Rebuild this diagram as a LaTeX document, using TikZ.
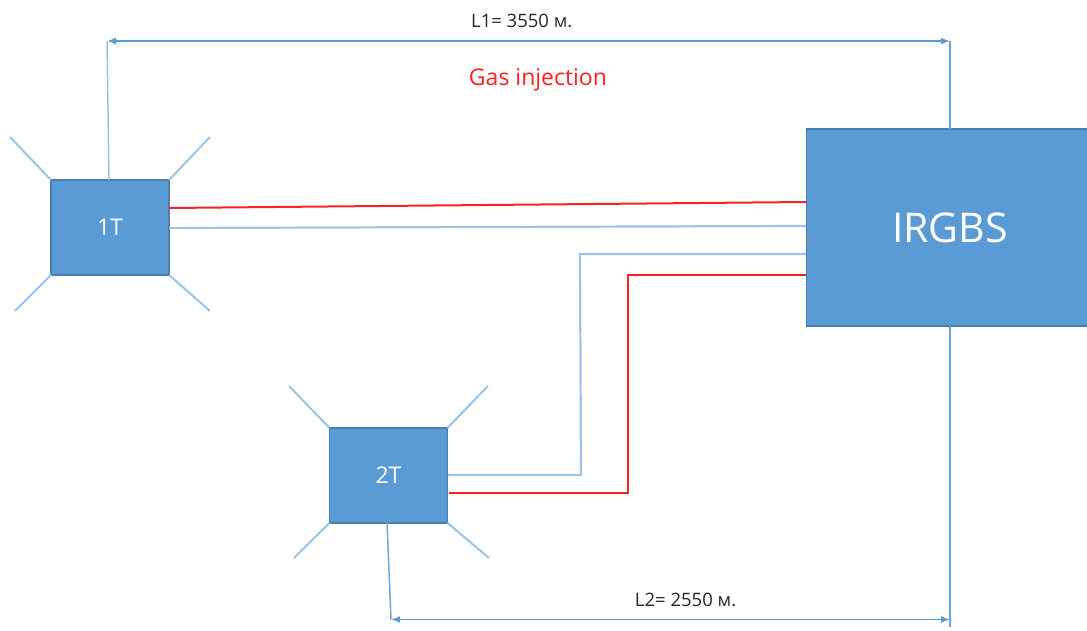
\documentclass[tikz,border=0pt]{standalone}
\usepackage{fontspec}
\setmainfont{Open Sans}
\usepackage{tikz}
\usetikzlibrary{positioning,calc,arrows.meta}
\definecolor{boxblue}{HTML}{5B9BD5}
\definecolor{boxedge}{HTML}{4A7EAE}
\definecolor{lineblue}{HTML}{9DC3E6}
\definecolor{dimblue}{HTML}{5B9BD5}
\definecolor{gasred}{HTML}{FF2020}
\tikzset{
  every picture/.style={line width=0.7pt},
  sbox/.style={draw=boxedge, fill=boxblue, line width=1.2pt, text=white, inner sep=0pt, outer sep=0pt},
  swell/.style={sbox, minimum width=118pt, minimum height=95pt, font=\fontsize{23}{28}\selectfont},
  sleg/.style={draw=lineblue, line width=2pt},
  sgas/.style={draw=gasred, line width=2pt},
  swater/.style={draw=lineblue, line width=2.2pt},
  sext/.style={draw=dimblue!75!lineblue, line width=1.5pt},
  sdim/.style={draw=dimblue, line width=1.4pt, {Latex[length=9pt,width=7pt]}-{Latex[length=9pt,width=7pt]}},
  sdimlabel/.style={font=\fontsize{18.5}{22}\selectfont, text=black!85, inner sep=0pt},
}
\begin{document}
\begin{tikzpicture}[x=1pt,y=-1pt]
  \useasboundingbox (0,0) rectangle (1087,631);
  \node[swell] (T1) at (110,227.5) {1T};
  \node[swell] (T2) at (388.5,475.4) {2T};
  \node[sbox, minimum width=287pt, minimum height=197pt, font=\fontsize{41}{50}\selectfont] (IRGBS) at (950,227.5) {IRGBS};
  % stubs round the wells
  \coordinate (a1) at (10,137);
  \coordinate (a2) at (210,137);
  \coordinate (a3) at (15,311);
  \coordinate (a4) at (210,311);
  \draw[sleg] (T1.north west) -- (a1);
  \draw[sleg] (T1.north east) -- (a2);
  \draw[sleg] (T1.south west) -- (a3);
  \draw[sleg] (T1.south east) -- (a4);
  \coordinate (b1) at (289,386);
  \coordinate (b2) at (488,386);
  \coordinate (b3) at (294,558);
  \coordinate (b4) at (489,558);
  \draw[sleg] (T2.north west) -- (b1);
  \draw[sleg] (T2.north east) -- (b2);
  \draw[sleg] (T2.south west) -- (b3);
  \draw[sleg] (T2.south east) -- (b4);
  % pipes
  \coordinate (p1) at (169,208);
  \coordinate (p2) at (806,202);
  \coordinate (p3) at (169,228);
  \coordinate (p4) at (806,226);
  \draw[sgas] (p1) -- (p2);
  \draw[swater] (p3) -- (p4);
  \coordinate (q1) at (448,475);
  \coordinate (q2) at (581,475);
  \coordinate (q3) at (580,254);
  \coordinate (q4) at (806,254);
  \draw[swater] (q1) -- (q2) -- (q3) -- (q4);
  \coordinate (r1) at (449,493);
  \coordinate (r2) at (628,493);
  \coordinate (r3) at (628,275);
  \coordinate (r4) at (806,275);
  \draw[sgas] (r1) -- (r2) -- (r3) -- (r4);
  % length marks
  \coordinate (u1) at (109,180);
  \coordinate (u2) at (107,41);
  \coordinate (u3) at (950,41);
  \coordinate (u4) at (950,129);
  \coordinate (v1) at (387,522);
  \coordinate (v2) at (391,619.5);
  \coordinate (v3) at (950,619.5);
  \coordinate (v4) at (950,627);
  \coordinate (v5) at (950,326);
  \draw[sext, draw=lineblue] (u1) -- (u2);
  \draw[sext] (u3) -- (u4);
  \draw[sext] (v1) -- (v2);
  \draw[sext] (v5) -- (v4);
  \draw[sdim] (u2) -- node[pos=0.492, above=13pt, sdimlabel] (L1) {L1= 3550 м.} (u3);
  \draw[sdim] (v2) -- node[pos=0.527, above=12pt, sdimlabel] (L2) {L2= 2550 м.} (v3);
  \node[font=\fontsize{23}{28}\selectfont, text=gasred, inner sep=0pt] (gas) at (538,80) {Gas injection};
\end{tikzpicture}
\end{document}
